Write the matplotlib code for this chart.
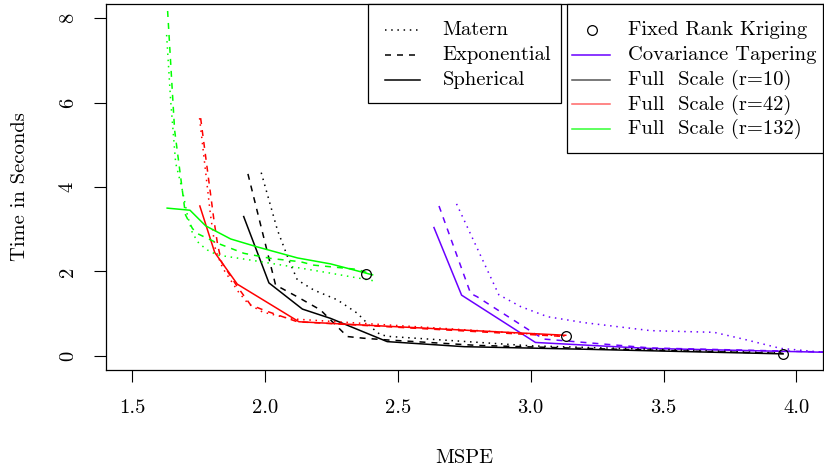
import matplotlib
matplotlib.use("Agg")
import matplotlib.pyplot as plt
from matplotlib.lines import Line2D
from matplotlib.patches import Rectangle

plt.rcParams['font.family'] = ['cmr10', 'DejaVu Serif']
plt.rcParams['axes.formatter.use_mathtext'] = True

# ---------------- data (MSPE, time in seconds) ----------------
# Covariance tapering (purple)
ct_mat_x = [2.721, 2.880, 2.962, 3.063, 3.200, 3.451, 3.690, 3.800, 3.940, 4.080, 4.200]
ct_mat_y = [3.60, 1.45, 1.17, 0.93, 0.79, 0.60, 0.56, 0.40, 0.18, 0.10, 0.08]
ct_exp_x = [2.655, 2.774, 2.799, 3.012, 3.050, 3.450, 4.200]
ct_exp_y = [3.55, 1.48, 1.40, 0.54, 0.40, 0.19, 0.08]
ct_sph_x = [2.636, 2.740, 3.018, 3.439, 4.200]
ct_sph_y = [3.04, 1.44, 0.32, 0.18, 0.075]

# Full scale r=10 (black)
fs10_mat_x = [1.986, 2.047, 2.090, 2.122, 2.184, 2.272, 2.348, 2.398, 2.435, 2.473, 3.000, 3.500, 3.950]
fs10_mat_y = [4.34, 2.98, 2.27, 1.80, 1.56, 1.33, 1.01, 0.69, 0.50, 0.46, 0.24, 0.15, 0.07]
fs10_exp_x = [1.936, 2.040, 2.122, 2.209, 2.310, 2.372, 2.460, 2.800, 3.200, 3.950]
fs10_exp_y = [4.31, 1.68, 1.40, 1.09, 0.46, 0.42, 0.38, 0.25, 0.18, 0.06]
fs10_sph_x = [1.920, 2.015, 2.141, 2.247, 2.460, 2.750, 3.200, 3.950]
fs10_sph_y = [3.30, 1.73, 1.11, 0.89, 0.34, 0.22, 0.16, 0.05]

# Full scale r=42 (red)
fs42_mat_x = [1.754, 1.795, 1.814, 1.841, 1.901, 1.938, 1.991, 2.096, 3.132]
fs42_mat_y = [5.63, 3.34, 2.51, 2.08, 1.51, 1.23, 1.04, 0.88, 0.47]
fs42_exp_x = [1.758, 1.808, 1.822, 1.837, 1.896, 1.946, 2.002, 2.122, 3.132]
fs42_exp_y = [5.63, 3.22, 2.63, 2.22, 1.64, 1.21, 1.07, 0.81, 0.46]
fs42_sph_x = [1.755, 1.811, 1.896, 2.128, 3.132]
fs42_sph_y = [3.55, 2.45, 1.70, 0.81, 0.49]

# Full scale r=132 (green)
fs132_mat_x = [1.630, 1.645, 1.664, 1.689, 1.708, 1.727, 1.751, 1.783, 1.821, 1.946, 2.134, 2.247, 2.409]
fs132_mat_y = [7.60, 6.06, 4.57, 3.93, 3.34, 2.91, 2.67, 2.51, 2.39, 2.27, 2.08, 1.96, 1.78]
fs132_exp_x = [1.626, 1.660, 1.701, 1.727, 1.745, 1.821, 1.921, 2.021, 2.134, 2.184, 2.348, 2.404]
fs132_exp_y = [9.00, 5.35, 3.34, 3.02, 2.90, 2.67, 2.43, 2.31, 2.23, 2.15, 2.05, 1.93]
fs132_sph_x = [1.632, 1.718, 1.777, 1.871, 1.972, 2.123, 2.247, 2.405]
fs132_sph_y = [3.50, 3.45, 3.08, 2.77, 2.58, 2.32, 2.18, 1.92]

# Fixed rank kriging
frk_x = [3.949, 3.134, 2.382]
frk_y = [0.047, 0.473, 1.94]

x_ticks = [1.5, 2.0, 2.5, 3.0, 3.5, 4.0]
x_ticklabels = ["1.5", "2.0", "2.5", "3.0", "3.5", "4.0"]
y_ticks = [0, 2, 4, 6, 8]
y_ticklabels = ["0", "2", "4", "6", "8"]

cov_labels = ["Matern", "Exponential", "Spherical"]
method_labels = ["Fixed Rank Kriging", "Covariance Tapering", "Full  Scale (r=10)",
                 "Full  Scale (r=42)", "Full  Scale (r=132)"]

# ---------------- style ----------------
PURPLE = "#6a00ff"
BLACK = "#000000"
RED = "#ff0000"
GREEN = "#00ff00"
LW = 1.1
PX = 0.72  # points per pixel at dpi 100
DOT = (0, (1.5 * PX / LW, 4.7 * PX / LW))
DASH = (0, (6.0 * PX / LW, 6.0 * PX / LW))
SOLID = "-"
FS = 14.8

W, H = 824, 473
fig = plt.figure(figsize=(W / 100, H / 100), dpi=100)
L, R, T, B = 105.5, 823.0, 4.5, 369.5
ax = fig.add_axes([L / W, (H - B) / H, (R - L) / W, (B - T) / H])

series = [
    (ct_mat_x, ct_mat_y, PURPLE, DOT), (ct_exp_x, ct_exp_y, PURPLE, DASH), (ct_sph_x, ct_sph_y, PURPLE, SOLID),
    (fs10_mat_x, fs10_mat_y, BLACK, DOT), (fs10_exp_x, fs10_exp_y, BLACK, DASH), (fs10_sph_x, fs10_sph_y, BLACK, SOLID),
    (fs42_mat_x, fs42_mat_y, RED, DOT), (fs42_exp_x, fs42_exp_y, RED, DASH), (fs42_sph_x, fs42_sph_y, RED, SOLID),
    (fs132_mat_x, fs132_mat_y, GREEN, DOT), (fs132_exp_x, fs132_exp_y, GREEN, DASH), (fs132_sph_x, fs132_sph_y, GREEN, SOLID),
]
for xs, ys, c, ls in series:
    ax.plot(xs, ys, color=c, linestyle=ls, linewidth=LW)

ax.plot(frk_x, frk_y, linestyle="none", marker="o", markersize=7, markerfacecolor="none",
        markeredgecolor="black", markeredgewidth=0.9)

ax.set_xlim(1.4, 4.1)
ax.set_ylim(-0.32, 8.32)
ax.set_xticks(x_ticks)
ax.set_xticklabels(x_ticklabels)
ax.set_yticks(y_ticks)
ax.set_yticklabels(y_ticklabels, rotation=90, va="center")
ax.tick_params(axis="x", length=8.6, width=0.8, pad=13, labelsize=FS)
ax.tick_params(axis="y", length=8.6, width=0.8, pad=12, labelsize=FS)
for s in ax.spines.values():
    s.set_linewidth(0.9)

fig.text(464 / W, 1 - 458 / H, "MSPE", ha="center", va="center", fontsize=FS)
fig.text(20 / W, 1 - 187 / H, "Time in Seconds", ha="center", va="center", rotation=90, fontsize=FS)

# ---------------- legends (drawn in pixel-derived axes coordinates) ----------------
def ax_xy(px, py):
    return (px - L) / (R - L), (B - py) / (B - T)

def add_box(x0, y0, x1, y1):
    (ax0, ay1), (ax1, ay0) = ax_xy(x0, y0), ax_xy(x1, y1)
    ax.add_patch(Rectangle((ax0, ay0), ax1 - ax0, ay1 - ay0, transform=ax.transAxes,
                           facecolor="white", edgecolor="black", linewidth=0.9, zorder=5, clip_on=False))

add_box(368, 4.5, 561, 103)
rows1 = [30, 55, 80]
for lab, ls, py in zip(cov_labels, [DOT, DASH, SOLID], rows1):
    (a0, ay), (a1, _) = ax_xy(385, py), ax_xy(420, py)
    ax.add_line(Line2D([a0, a1], [ay, ay], transform=ax.transAxes, color="black",
                       linestyle=ls, linewidth=LW, zorder=6, clip_on=False))
    tx, _ = ax_xy(442.7, py)
    ax.text(tx, ay, lab, transform=ax.transAxes, ha="left", va="center", fontsize=FS, zorder=7)

add_box(567, 4.5, 823, 153)
rows2 = [30, 55, 80, 104.5, 129]
cols2 = [None, PURPLE, "#555555", "#ff6666", "#33ff33"]
for i, (lab, c, py) in enumerate(zip(method_labels, cols2, rows2)):
    (a0, ay), (a1, _) = ax_xy(572, py), ax_xy(610, py)
    if i == 0:
        mx, _ = ax_xy(591.5, py)
        ax.add_line(Line2D([mx], [ay], transform=ax.transAxes, linestyle="none", marker="o",
                           markersize=7, markerfacecolor="none", markeredgecolor="black",
                           markeredgewidth=0.9, zorder=6, clip_on=False))
    else:
        ax.add_line(Line2D([a0, a1], [ay, ay], transform=ax.transAxes, color=c,
                           linestyle="-", linewidth=LW, zorder=6, clip_on=False))
    tx, _ = ax_xy(628.3, py)
    ax.text(tx, ay, lab, transform=ax.transAxes, ha="left", va="center", fontsize=FS, zorder=7)

fig.savefig("out.png", dpi=100)
